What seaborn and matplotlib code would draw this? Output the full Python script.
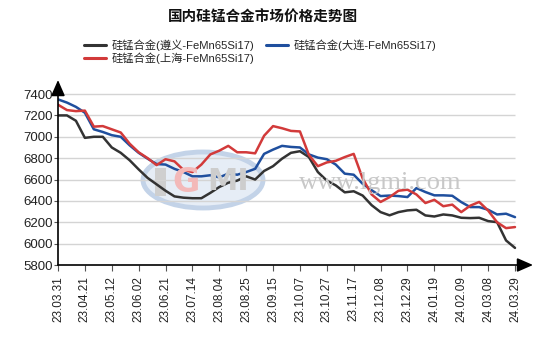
import numpy as np
import pandas as pd
import matplotlib
matplotlib.use("Agg")
import matplotlib.pyplot as plt
import matplotlib.patches as mpatches
import seaborn as sns

# Trading-day axis: one tick every 15 sessions, one price every 5 sessions
tick_labels = ["23.03.31", "23.04.21", "23.05.12", "23.06.02", "23.06.21", "23.07.14",
               "23.08.04", "23.08.25", "23.09.15", "23.10.07", "23.10.27", "23.11.17",
               "23.12.08", "23.12.29", "24.01.19", "24.02.09", "24.03.08", "24.03.29"]

series_names = ["硅锰合金(遵义-FeMn65Si17)", "硅锰合金(大连-FeMn65Si17)", "硅锰合金(上海-FeMn65Si17)"]

zunyi = [7200, 7200, 7150, 6990, 7000, 7000, 6900, 6850, 6780, 6695, 6615, 6555, 6495,
         6442, 6430, 6425, 6425, 6475, 6530, 6570, 6590, 6630, 6600, 6680, 6725, 6795,
         6850, 6865, 6810, 6670, 6590, 6545, 6480, 6490, 6450, 6360, 6295, 6265, 6295,
         6311, 6317, 6264, 6254, 6273, 6264, 6242, 6239, 6242, 6211, 6201, 6030, 5960]

dalian = [7350, 7320, 7280, 7225, 7070, 7045, 7015, 7000, 6920, 6850, 6795, 6745, 6740,
          6700, 6670, 6630, 6630, 6640, 6620, 6655, 6645, 6670, 6700, 6840, 6880, 6915,
          6905, 6900, 6835, 6805, 6790, 6740, 6655, 6645, 6560, 6500, 6445, 6450, 6445,
          6436, 6520, 6483, 6452, 6452, 6448, 6389, 6342, 6342, 6317, 6273, 6280, 6248]

shanghai = [7300, 7250, 7240, 7245, 7095, 7100, 7070, 7040, 6935, 6855, 6800, 6735, 6790,
            6770, 6690, 6670, 6740, 6835, 6870, 6915, 6855, 6855, 6845, 7010, 7100, 7080,
            7055, 7050, 6830, 6725, 6760, 6775, 6810, 6840, 6610, 6460, 6390, 6435, 6495,
            6505, 6460, 6380, 6410, 6350, 6365, 6295, 6355, 6390, 6310, 6200, 6145, 6155]

y_ticks = [5800, 6000, 6200, 6400, 6600, 6800, 7000, 7200, 7400]

session = np.arange(len(zunyi)) * 5
tick_pos = np.arange(len(tick_labels)) * 15

df = pd.DataFrame({
    "session": np.concatenate([session, session, session]),
    "price": zunyi + dalian + shanghai,
    "market": [series_names[0]] * len(zunyi) + [series_names[1]] * len(dalian)
              + [series_names[2]] * len(shanghai),
})

sns.set_theme(style="white")
plt.rcParams["font.family"] = ["Liberation Sans", "Noto Sans CJK SC"]

W, H = 535, 343
fig = plt.figure(figsize=(W / 100, H / 100), dpi=100)
fig.patch.set_facecolor("white")

# axes box in pixel terms: x 58..533, y 80..265
ax = fig.add_axes([58 / W, (H - 265) / H, (533 - 58) / W, (265 - 80) / H])
ax.set_facecolor("white")

x_max = 255
px_per_session = (515 - 58) / x_max
ax.set_xlim(0, x_max + (533 - 515) / px_per_session)
ymin = 5800
per_px = 200 / 21.3
ax.set_ylim(ymin, 7400 + 14 * per_px)

# gridlines stop at the last session
ax.hlines(y_ticks[1:], 0, x_max, colors="#d4d4d4", linewidth=1, zorder=1)

# watermark: logo ellipse and site address
logo = mpatches.Ellipse((203 / W, 1 - 180 / H), 120 / W, 56 / H, transform=fig.transFigure,
                        facecolor="#e6edf6", edgecolor="#c3d3e8", linewidth=3.5, zorder=0.5)
ax.add_patch(logo)
logo.set_clip_on(False)
bar = mpatches.Rectangle((155 / W, 1 - 196 / H), 11 / W, 28 / H, transform=fig.transFigure,
                         facecolor="#cfcfcf", edgecolor="none", zorder=0.55)
ax.add_patch(bar)
bar.set_clip_on(False)
fig.text(186 / W, 1 - 182 / H, "G", fontsize=24, fontweight="bold", color="#f3b9b9",
         ha="center", va="center", zorder=0.6, family="DejaVu Sans")
fig.text(228 / W, 1 - 182 / H, "MI", fontsize=22, fontweight="bold", color="#cdcdcd",
         ha="center", va="center", zorder=0.6, family="DejaVu Sans")
fig.text(380 / W, 1 - 183 / H, "www.lgmi.com", fontsize=19, color="#c8c8c8",
         ha="center", va="center", family="Liberation Serif", zorder=0.6)

palette = {series_names[0]: "#333333", series_names[1]: "#1f4f9e", series_names[2]: "#d23a3a"}
sns.lineplot(data=df, x="session", y="price", hue="market", palette=palette,
             linewidth=1.8, ax=ax, legend=False, zorder=3)

ax.set_xlabel("")
ax.set_ylabel("")
for s in ax.spines.values():
    s.set_visible(False)

ax.set_xticks(tick_pos)
ax.set_xticklabels(tick_labels, rotation=90, fontsize=8.5, color="#222222")
ax.set_yticks(y_ticks)
ax.set_yticklabels([str(v) for v in y_ticks], fontsize=9.5, color="#222222")
ax.tick_params(axis="x", bottom=True, length=4, width=0.8, color="#555555", pad=4)
ax.tick_params(axis="y", left=True, length=3, width=0.8, color="#555555", pad=1)

# axis lines with arrow heads
ax.annotate("", xy=(1.0, 0), xytext=(0, 0), xycoords="axes fraction",
            arrowprops=dict(arrowstyle="-|>,head_length=0.8,head_width=0.35",
                            color="black", lw=1.2, shrinkA=0, shrinkB=0))
ax.annotate("", xy=(0, 1.0), xytext=(0, 0), xycoords="axes fraction",
            arrowprops=dict(arrowstyle="-|>,head_length=0.8,head_width=0.35",
                            color="black", lw=1.2, shrinkA=0, shrinkB=0))

fig.text(263 / W, 1 - 17 / H, "国内硅锰合金市场价格走势图", fontsize=10.5, fontweight="bold",
         ha="center", va="center", family=["Noto Sans CJK SC"], color="#111111")

handles = [plt.Line2D([], [], color=palette[n], linewidth=2.2) for n in series_names]
order = [0, 2, 1]
fig.legend([handles[i] for i in order], [series_names[i] for i in order],
           ncol=2, loc="center", bbox_to_anchor=(260 / W, 1 - 52 / H), frameon=False,
           fontsize=8.1, handlelength=2.0, handletextpad=0.5, columnspacing=1.0,
           labelspacing=0.15, borderpad=0)

fig.savefig("out.png", dpi=100, facecolor="white")
